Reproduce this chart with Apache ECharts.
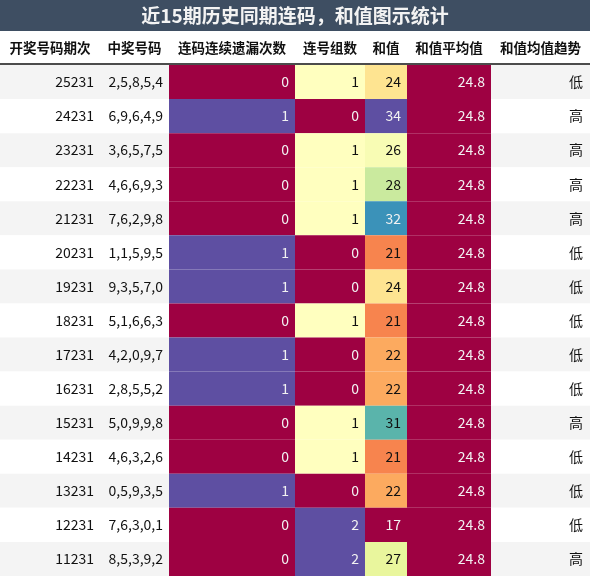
<!DOCTYPE html><html><head><meta charset="utf-8"><script src="https://cdn.jsdelivr.net/npm/echarts@6/dist/echarts.min.js"></script>
<style>html,body{margin:0;padding:0;background:#fff}#c{width:590px;height:576px}</style></head><body><div id="c"></div><script>
const headers=['开奖号码期次','中奖号码','连码连续遗漏次数','连号组数','和值','和值平均值','和值均值趋势'];
const periods=['25231','24231','23231','22231','21231','20231','19231','18231','17231','16231','15231','14231','13231','12231','11231'];
const numbers=['2,5,8,5,4','6,9,6,4,9','3,6,5,7,5','4,6,6,9,3','7,6,2,9,8','1,1,5,9,5','9,3,5,7,0','5,1,6,6,3','4,2,0,9,7','2,8,5,5,2','5,0,9,9,8','4,6,3,2,6','0,5,9,3,5','7,6,3,0,1','8,5,3,9,2'];
const miss=[0,1,0,0,0,1,1,0,1,1,0,0,1,0,0];
const groups=[1,0,1,1,1,0,0,1,0,0,1,1,0,2,2];
const sums=[24,34,26,28,32,21,24,21,22,22,31,21,22,17,27];
const avgs=[24.8,24.8,24.8,24.8,24.8,24.8,24.8,24.8,24.8,24.8,24.8,24.8,24.8,24.8,24.8];
const trend=['低','高','高','高','高','低','低','低','低','低','高','低','低','低','高'];
const bounds=[0,100,169,295,365,407,491,590];
const spectral=['#9e0142','#d53e4f','#f46d43','#fdae61','#fee08b','#ffffbf','#e6f598','#abdda4','#66c2a5','#3288bd','#5e4fa2'];
function hex(h){return [1,3,5].map(i=>parseInt(h.substr(i,2),16));}
function cmap(t){t=Math.max(0,Math.min(1,t));const p=t*10,i=Math.min(9,Math.floor(p)),f=p-i;const a=hex(spectral[i]),b=hex(spectral[i+1]);const c=a.map((v,k)=>Math.round(v+(b[k]-v)*f));return 'rgb('+c.join(',')+')';}
function lum(col){const m=col.match(/\d+/g).map(Number);return 0.299*m[0]+0.587*m[1]+0.114*m[2];}
function colColor(arr,v){const mn=Math.min(...arr),mx=Math.max(...arr);return cmap(mx===mn?0:(v-mn)/(mx-mn));}
const cols=[periods,numbers,miss,groups,sums,avgs,trend];
const heat=[false,false,true,true,true,true,false];
const data=[];
for(let r=0;r<15;r++){for(let c=0;c<7;c++){const v=cols[c][r];let bg=r%2===0?'#f4f4f4':'#ffffff',fg='#111';if(heat[c]){bg=colColor(cols[c],v);fg=lum(bg)<140?'#f2f2f2':'#111';}data.push({value:[c,r],bg:bg,fg:fg,txt:String(v)});}}
const chart=echarts.init(document.getElementById('c'));
chart.setOption({animation:false,
graphic:[{type:'rect',shape:{x:0,y:0,width:590,height:31},style:{fill:'#3e4e62'}},
{type:'text',x:295,y:16,style:{text:'近15期历史同期连码，和值图示统计',fill:'#f3f3f3',font:'bold 19px "Noto Sans CJK SC"',align:'center',verticalAlign:'middle'}},
...headers.map((h,i)=>({type:'text',x:(bounds[i]+bounds[i+1])/2,y:48,style:{text:h,fill:'#111',font:'bold 13.5px "Noto Sans CJK SC"',align:'center',verticalAlign:'middle'}})),
{type:'line',shape:{x1:0,y1:64,x2:590,y2:64},style:{stroke:'#111',lineWidth:1.5}}],
grid:{left:0,right:0,top:65,bottom:0},
xAxis:{type:'value',min:0,max:590,show:false},
yAxis:{type:'value',min:0,max:15,inverse:true,show:false},
series:[{type:'custom',data:data,renderItem:function(params,api){const d=data[params.dataIndex];const c=d.value[0],r=d.value[1];const p0=api.coord([bounds[c],r]),p1=api.coord([bounds[c+1],r+1]);
return {type:'group',children:[{type:'rect',shape:{x:p0[0],y:p0[1],width:p1[0]-p0[0],height:p1[1]-p0[1]},style:{fill:d.bg}},
{type:'text',style:{text:d.txt,x:p1[0]-(c===6?7:6),y:(p0[1]+p1[1])/2,align:'right',verticalAlign:'middle',fill:d.fg,font:'14px "Noto Sans CJK SC", Roboto'}}]};}}]});
</script></body></html>
